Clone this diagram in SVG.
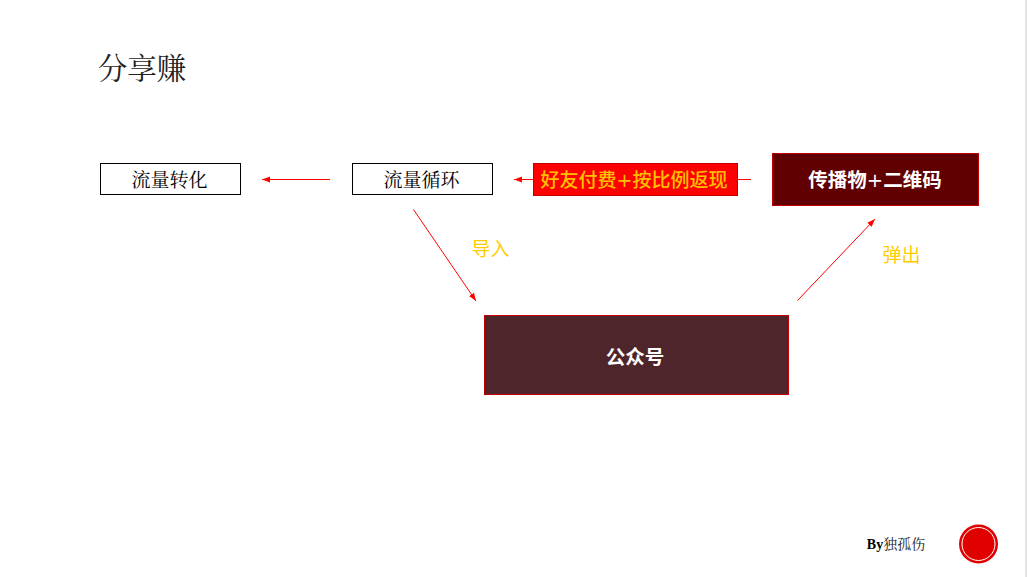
<svg xmlns="http://www.w3.org/2000/svg" width="1027" height="577" viewBox="0 0 1027 577">
<defs>
<marker id="arrow" markerUnits="userSpaceOnUse" markerWidth="9" markerHeight="7" refX="8" refY="3.500" orient="auto"><path d="M0 0.500L8 3.500L0 6.500Z" fill="#ff0000"/></marker>
</defs>
<style>
text{text-anchor:middle;font-family:"Noto Sans CJK SC","Liberation Sans",sans-serif}
.c{fill:none;stroke:#ff0000;stroke-width:1;marker-end:url(#arrow)}
.w{fill:#fff;stroke:#000;stroke-width:1}
.l{font-size:19px;fill:#000;font-family:"Noto Serif CJK SC","Noto Sans CJK SC",serif}
.b{font-size:19.500px;font-weight:700;fill:#fff}
.y{font-size:19px;fill:#ffcc00}
.p{font-family:"DejaVu Sans",sans-serif}
</style>
<rect width="1027" height="577" fill="#fff"/>
<rect x="1025" y="0" width="2" height="577" fill="#e4e4e4"/>
<text x="142" y="79" font-size="29.500" fill="#222" style="font-family:'Noto Serif CJK SC',serif">分享赚</text>
<g id="connectors">
<path class="c" d="M330 179.500H262"/>
<path class="c" d="M751 179.500H514"/>
<path class="c" d="M413.500 209.500L476 301"/>
<path class="c" d="M797.500 300.500L875 219"/>
</g>
<g id="node-convert"><rect class="w" x="100.500" y="163.500" width="140" height="31"/><text class="l" x="169.500" y="186.500">流量转化</text></g>
<g id="node-loop"><rect class="w" x="352.500" y="163.500" width="140" height="31"/><text class="l" x="421.500" y="186.500">流量循环</text></g>
<g id="node-pay"><rect x="533.500" y="163.500" width="204" height="32" fill="#ff0000" stroke="#c00000"/><text x="634" y="187" font-size="19" font-weight="500" fill="#ffc000">好友付费<tspan class="p">+</tspan>按比例返现</text></g>
<g id="node-media"><rect x="772.500" y="153.500" width="206" height="52" fill="#600000" stroke="#c00000"/><text class="b" x="875" y="187">传播物<tspan class="p" font-weight="400">+</tspan>二维码</text></g>
<g id="node-mp"><rect x="484.500" y="315.500" width="304" height="79" fill="#4e252b" stroke="#c00000"/><text class="b" x="635" y="364">公众号</text></g>
<text class="y" x="490.500" y="255.500">导入</text>
<text class="y" x="901.500" y="261.500">弹出</text>
<g id="footer">
<text x="896" y="549" font-size="14" fill="#222"><tspan font-weight="900" fill="#000" style="font-family:'Liberation Serif',serif">By</tspan><tspan style="font-family:'Noto Serif CJK SC','Noto Sans CJK SC',serif">独孤伤</tspan></text>
<circle cx="978.500" cy="544" r="19.500" fill="#e00000"/>
<circle cx="978.500" cy="544" r="16.500" fill="none" stroke="#fff" stroke-width="1"/>
</g>
</svg>
